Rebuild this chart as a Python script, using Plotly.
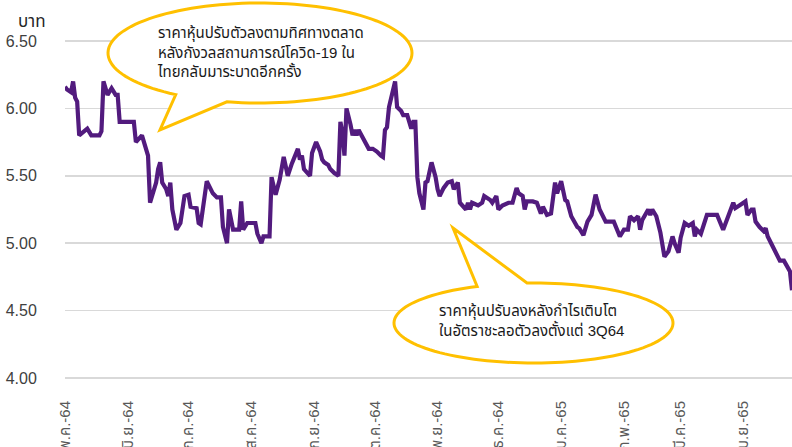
import numpy as np
import pandas as pd
import plotly.graph_objects as go

# ---------------- data ----------------
start_date = "2021-05-01"
day_offsets = [0, 1, 3, 4, 5, 6, 7, 9, 11, 13, 17, 18, 19, 21, 22, 23, 25, 26, 27, 34,
               35, 36, 38, 40, 41, 42, 43, 45, 46, 47, 48, 50, 51, 52, 53, 55, 57, 59, 61, 62,
               65, 66, 67, 70, 73, 75, 77, 78, 80, 81, 83, 86, 87, 88, 90, 94, 95, 97, 98, 101,
               102, 104, 106, 108, 110, 112, 115, 116, 117, 118, 121, 122, 124, 126, 127, 128, 130, 131, 133, 135,
               136, 137, 138, 139, 141, 142, 143, 144, 145, 147, 148, 150, 152, 154, 156, 157, 158, 159, 160, 163,
               164, 166, 167, 169, 171, 172, 173, 174, 175, 177, 178, 179, 181, 183, 184, 185, 187, 189, 191, 192,
               194, 195, 198, 199, 200, 201, 204, 206, 207, 210, 211, 213, 214, 216, 219, 221, 223, 224, 226, 227,
               228, 231, 233, 235, 236, 237, 238, 240, 242, 243, 245, 247, 248, 250, 253, 254, 256, 258, 260, 262,
               264, 267, 271, 274, 276, 278, 279, 281, 283, 284, 285, 288, 289, 290, 292, 294, 296, 298, 300, 301,
               303, 304, 306, 308, 310, 311, 312, 314, 315, 317, 322, 325, 330, 331, 333, 336, 337, 339, 340, 341,
               343, 345, 346, 347, 349, 352, 353, 355, 358, 359]
prices = [6.16, 6.14, 6.12, 6.20, 6.08, 6.05, 5.80, 5.83, 5.85, 5.80, 5.80, 5.83, 6.20, 6.10, 6.13, 6.15, 6.10, 6.10, 5.90, 5.90,
          5.75, 5.77, 5.80, 5.70, 5.65, 5.30, 5.35, 5.45, 5.55, 5.60, 5.45, 5.40, 5.35, 5.45, 5.25, 5.10, 5.15, 5.35, 5.36, 5.27,
          5.26, 5.15, 5.14, 5.46, 5.37, 5.34, 5.34, 5.12, 5.00, 5.25, 5.10, 5.10, 5.31, 5.10, 5.15, 5.15, 5.07, 5.00, 5.05, 5.05,
          5.49, 5.36, 5.47, 5.64, 5.50, 5.59, 5.70, 5.62, 5.65, 5.55, 5.50, 5.67, 5.75, 5.68, 5.62, 5.60, 5.58, 5.55, 5.52, 5.50,
          5.90, 5.82, 5.65, 6.00, 5.88, 5.80, 5.84, 5.80, 5.84, 5.78, 5.75, 5.70, 5.70, 5.68, 5.65, 5.64, 5.84, 5.86, 6.01, 6.20,
          6.01, 5.98, 5.95, 5.95, 5.85, 5.90, 5.90, 5.49, 5.37, 5.25, 5.45, 5.46, 5.60, 5.49, 5.40, 5.35, 5.41, 5.45, 5.46, 5.40,
          5.45, 5.30, 5.25, 5.30, 5.25, 5.30, 5.28, 5.30, 5.35, 5.32, 5.30, 5.35, 5.25, 5.28, 5.30, 5.30, 5.41, 5.37, 5.35, 5.25,
          5.31, 5.31, 5.30, 5.22, 5.27, 5.24, 5.21, 5.22, 5.45, 5.37, 5.46, 5.32, 5.31, 5.20, 5.12, 5.11, 5.06, 5.16, 5.21, 5.36,
          5.25, 5.16, 5.16, 5.05, 5.10, 5.10, 5.20, 5.17, 5.20, 5.10, 5.17, 5.25, 5.21, 5.25, 5.20, 5.08, 4.90, 4.94, 5.05, 5.00,
          4.93, 5.04, 5.15, 5.13, 5.15, 5.05, 5.10, 5.07, 5.12, 5.21, 5.21, 5.10, 5.30, 5.26, 5.28, 5.31, 5.21, 5.25, 5.25, 5.16,
          5.12, 5.09, 5.11, 5.05, 4.99, 4.90, 4.87, 4.87, 4.79, 4.65]

tick_dates = ["2021-05-01", "2021-06-01", "2021-07-01", "2021-08-01", "2021-09-01", "2021-10-01",
              "2021-11-01", "2021-12-01", "2022-01-01", "2022-02-01", "2022-03-01", "2022-04-01"]
tick_labels = ["พ.ค.-64", "มิ.ย.-64", "ก.ค.-64", "ส.ค.-64", "ก.ย.-64", "ต.ค.-64",
               "พ.ย.-64", "ธ.ค.-64", "ม.ค.-65", "ก.พ.-65", "มี.ค.-65", "เม.ย.-65"]
y_ticks = [4.0, 4.5, 5.0, 5.5, 6.0, 6.5]
y_tick_labels = ["4.00", "4.50", "5.00", "5.50", "6.00", "6.50"]

unit_label = "บาท"
note_1 = "ราคาหุ้นปรับตัวลงตามทิศทางตลาด<br>หลังกังวลสถานการณ์โควิด-19 ใน<br>ไทยกลับมาระบาดอีกครั้ง"
note_2 = "ราคาหุ้นปรับลงหลังกำไรเติบโต<br>ในอัตราชะลอตัวลงตั้งแต่ 3Q64"

dates = pd.Timestamp(start_date) + pd.to_timedelta(day_offsets, unit="D")

# ---------------- layout geometry ----------------
W, H = 792, 447
L, R, T, B = 65, 0, 39, 67
PW, PH = W - L - R, H - T - B

def px2paper(x, y):
    return (x - L) / PW, (H - B - y) / PH

def callout_path(cx, cy, rx, ry, b1, b2, tip):
    def ang(p):
        return np.arctan2((p[1] - cy) / ry, (p[0] - cx) / rx)
    a1, a2 = ang(b1), ang(b2)
    a_from, a_to = max(a1, a2), min(a1, a2) + 2 * np.pi
    ts = np.linspace(a_from, a_to, 120)
    pts = [(cx + rx * np.cos(t), cy + ry * np.sin(t)) for t in ts]
    pts.append(tip)
    s = ""
    for i, (x, y) in enumerate(pts):
        u, v = px2paper(x, y)
        s += ("M" if i == 0 else "L") + f"{u:.5f},{v:.5f} "
    return s + "Z"

FONT = "Liberation Sans, Arial, Tahoma, Noto Sans Thai, sans-serif"
line_color = "#521B7E"
callout_color = "#FFC000"

fig = go.Figure()
fig.add_trace(go.Scatter(x=dates, y=prices, mode="lines",
                         line=dict(color=line_color, width=4.2), hoverinfo="skip",
                         showlegend=False))

shapes = [
    dict(type="path", xref="paper", yref="paper", layer="above",
         path=callout_path(260, 53, 152, 50, (175, 95), (227, 101.7), (160, 130)),
         line=dict(color=callout_color, width=3), fillcolor="white"),
    dict(type="path", xref="paper", yref="paper", layer="above",
         path=callout_path(533.5, 323, 139.5, 40, (475, 285), (527, 283), (453, 228)),
         line=dict(color=callout_color, width=3), fillcolor="white"),
]

a1x, a1y = px2paper(155, 52)
a2x, a2y = px2paper(437, 320)
ux, uy = px2paper(48, 21)
annotations = [
    dict(text=note_1, x=a1x, y=a1y, xref="paper", yref="paper", xanchor="left", yanchor="middle",
         align="left", showarrow=False, font=dict(family=FONT, size=15, color="#1a1a1a")),
    dict(text=note_2, x=a2x, y=a2y, xref="paper", yref="paper", xanchor="left", yanchor="middle",
         align="left", showarrow=False, font=dict(family=FONT, size=15, color="#1a1a1a")),
    dict(text=unit_label, x=ux, y=uy, xref="paper", yref="paper", xanchor="right", yanchor="middle",
         showarrow=False, font=dict(family=FONT, size=17, color="#262626")),
]

fig.update_layout(
    width=W, height=H,
    margin=dict(l=L, r=R, t=T, b=B, pad=0),
    paper_bgcolor="white", plot_bgcolor="white",
    font=dict(family=FONT),
    shapes=shapes, annotations=annotations,
    xaxis=dict(type="date", range=[dates[0], dates[-1]],
               tickmode="array", tickvals=tick_dates, ticktext=tick_labels,
               tickangle=-90, tickfont=dict(family=FONT, size=15, color="#595959"),
               ticks="outside", ticklen=14, tickcolor="rgba(0,0,0,0)",
               showgrid=False, zeroline=False, showline=False, automargin=False),
    yaxis=dict(range=[3.985, 6.515], tickmode="array", tickvals=y_ticks, ticktext=y_tick_labels,
               tickfont=dict(family=FONT, size=16, color="#404040"),
               ticks="outside", ticklen=24, tickcolor="rgba(0,0,0,0)",
               showgrid=True, gridcolor="#D9D9D9", gridwidth=1.5,
               zeroline=False, showline=False, automargin=False),
)

fig.write_html("out.html", config={"displayModeBar": False, "staticPlot": True},
               post_script="document.body.style.margin='0';document.body.style.overflow='hidden';")
